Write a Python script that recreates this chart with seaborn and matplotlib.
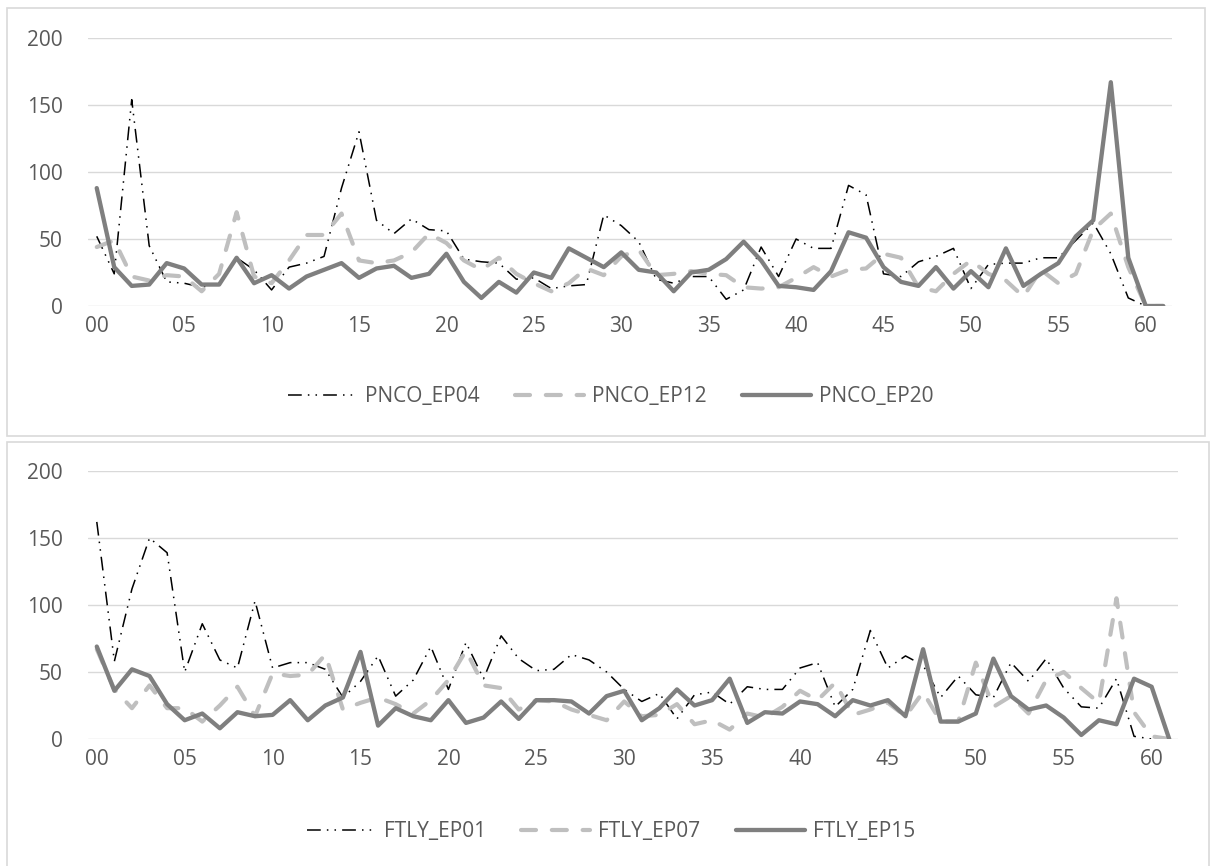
import pandas as pd
import matplotlib
matplotlib.use("Agg")
import matplotlib.pyplot as plt
from matplotlib.patches import Rectangle
from matplotlib.lines import Line2D
import seaborn as sns

# ---- data ----
x_ticks = [0, 5, 10, 15, 20, 25, 30, 35, 40, 45, 50, 55, 60]
x_labels = ["00", "05", "10", "15", "20", "25", "30", "35", "40", "45", "50", "55", "60"]

top_names = ["PNCO_EP04", "PNCO_EP12", "PNCO_EP20"]
pnco_ep04 = [52, 24, 154, 45, 18, 17, 14, 17, 36, 27, 12, 29, 32, 37, 88, 130, 64, 54, 65, 57,
             56, 35, 33, 32, 20, 21, 13, 15, 16, 68, 60, 48, 20, 17, 22, 22, 5, 12, 44, 22,
             50, 43, 43, 90, 83, 24, 22, 33, 37, 43, 13, 31, 32, 32, 36, 36, 49, 62, 39, 6, 0, 0]
pnco_ep12 = [44, 49, 22, 19, 23, 22, 11, 24, 70, 22, 17, 34, 53, 53, 69, 34, 32, 34, 40, 54,
             47, 34, 27, 36, 24, 17, 11, 17, 28, 23, 37, 42, 23, 24, 26, 24, 23, 14, 13, 14,
             21, 29, 22, 27, 28, 39, 36, 14, 11, 24, 34, 24, 19, 7, 27, 17, 24, 57, 69, 29, 0, 0]
pnco_ep20 = [88, 29, 15, 16, 32, 28, 16, 16, 36, 17, 23, 13, 22, 27, 32, 21, 28, 30, 21, 24,
             39, 18, 6, 18, 10, 25, 21, 43, 36, 29, 40, 27, 25, 11, 25, 27, 35, 48, 34, 15,
             14, 12, 26, 55, 51, 29, 18, 15, 29, 13, 26, 14, 43, 15, 24, 32, 52, 64, 167, 36, 0, 0]

bottom_names = ["FTLY_EP01", "FTLY_EP07", "FTLY_EP15"]
ftly_ep01 = [162, 58, 112, 150, 139, 50, 86, 59, 53, 103, 53, 57, 57, 52, 31, 43, 62, 32, 44, 69,
             37, 72, 45, 77, 60, 51, 52, 63, 59, 50, 37, 28, 34, 15, 33, 35, 26, 39, 37, 37,
             53, 57, 24, 37, 81, 53, 62, 55, 31, 47, 33, 31, 57, 43, 60, 38, 24, 23, 45, 2, 0, 0]
ftly_ep07 = [67, 37, 23, 40, 23, 23, 13, 25, 39, 17, 49, 47, 48, 63, 22, 27, 31, 26, 19, 29,
             44, 66, 40, 38, 22, 29, 28, 22, 18, 14, 28, 17, 18, 26, 11, 14, 7, 19, 16, 24,
             36, 29, 42, 18, 22, 27, 17, 35, 13, 13, 57, 24, 32, 19, 44, 50, 38, 27, 105, 20, 2, 0]
ftly_ep15 = [69, 36, 52, 47, 26, 14, 19, 8, 20, 17, 18, 29, 14, 25, 31, 65, 10, 23, 17, 14,
             29, 12, 16, 28, 15, 29, 29, 28, 19, 32, 36, 14, 23, 37, 25, 29, 45, 12, 20, 19,
             28, 26, 17, 29, 25, 29, 17, 67, 13, 13, 19, 60, 32, 22, 25, 16, 3, 14, 11, 45, 39, 0]

# ---- style ----
sns.set_theme(style="white")
plt.rcParams["font.family"] = ["Open Sans", "DejaVu Sans"]
TXT = "#595959"
GRID = "#d9d9d9"

styles = [
    dict(color="black", lw=1.1, linestyle=(0, (9, 4, 1, 4, 1, 4)), dash_capstyle="butt"),
    dict(color="#bfbfbf", lw=3.0, linestyle=(0, (3.6, 3.8)), dash_capstyle="round"),
    dict(color="#7f7f7f", lw=3.1, linestyle="-", solid_capstyle="round", solid_joinstyle="round"),
]

W, H = 1210, 866
fig = plt.figure(figsize=(W / 100, H / 100), dpi=100)

# panel frames
fig.add_artist(Rectangle((7 / W, 1 - 436 / H), 1198 / W, 428 / H, transform=fig.transFigure,
                         fill=False, edgecolor=GRID, lw=1.2))
fig.add_artist(Rectangle((7 / W, 1 - 880 / H), 1202 / W, 438 / H, transform=fig.transFigure,
                         fill=False, edgecolor=GRID, lw=1.2))


def draw_panel(rect, names, series, legend_y):
    ax = fig.add_axes(rect)
    idx = list(range(len(series[0])))
    for name, vals, st in zip(names, series, styles):
        df = pd.DataFrame({"t": idx, "v": vals})
        sns.lineplot(data=df, x="t", y="v", ax=ax, **st)
    ax.set_xlim(-0.5, len(idx) - 0.5)
    ax.set_ylim(0, 200)
    ax.set_yticks([0, 50, 100, 150, 200])
    ax.set_xticks(x_ticks)
    ax.set_xticklabels(x_labels)
    ax.set_xlabel("")
    ax.set_ylabel("")
    ax.grid(axis="y", color=GRID, lw=1.0)
    ax.set_axisbelow(True)
    for s in ax.spines.values():
        s.set_visible(False)
    ax.tick_params(axis="y", length=0, pad=18, labelsize=15, labelcolor=TXT)
    ax.tick_params(axis="x", length=0, pad=7, labelsize=15, labelcolor=TXT)
    handles = [Line2D([], [], **st) for st in styles]
    fig.legend(handles, names, loc="center", bbox_to_anchor=(611 / W, 1 - legend_y / H),
               ncol=3, frameon=False, fontsize=15, labelcolor=TXT, handlelength=3.3,
               handletextpad=0.4, columnspacing=1.7)
    return ax


draw_panel([88 / W, 1 - 306 / H, 1084 / W, 268 / H], top_names,
           [pnco_ep04, pnco_ep12, pnco_ep20], 397)
draw_panel([88 / W, 1 - 739 / H, 1090 / W, 268 / H], bottom_names,
           [ftly_ep01, ftly_ep07, ftly_ep15], 832)

fig.savefig("out.png", dpi=100)
